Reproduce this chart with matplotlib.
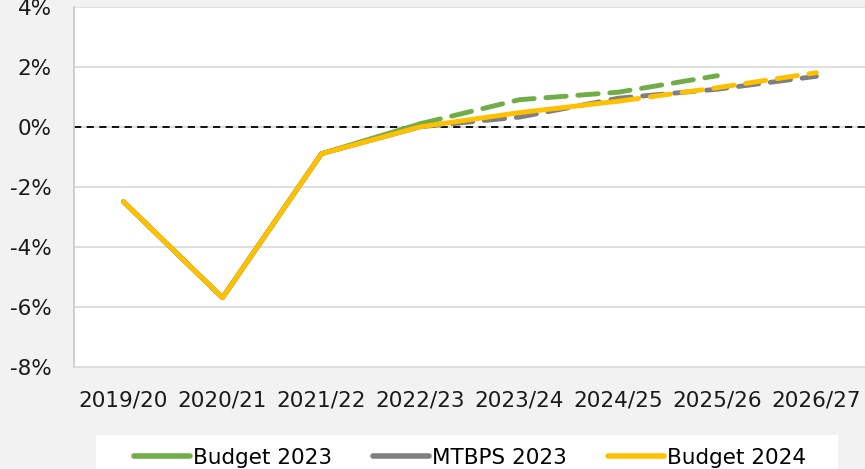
import numpy as np
import matplotlib
matplotlib.use("Agg")
import matplotlib.pyplot as plt
from matplotlib.lines import Line2D
from matplotlib.patches import Rectangle
from matplotlib.ticker import FuncFormatter

matplotlib.rcParams['font.family'] = 'DejaVu Sans'
matplotlib.rcParams['axes.unicode_minus'] = False

# data (% of GDP)
years = ['2019/20', '2020/21', '2021/22', '2022/23', '2023/24', '2024/25', '2025/26', '2026/27']
budget_2023 = [-2.5, -5.7, -0.9, 0.1, 0.9, 1.15, 1.7, np.nan]
mtbps_2023 = [-2.5, -5.7, -0.9, 0.0, 0.32, 0.95, 1.25, 1.68]
budget_2024 = [-2.5, -5.7, -0.9, 0.0, 0.47, 0.85, 1.3, 1.8]
# last year drawn solid, after that dashed (projection)
last_actual = {'Budget 2023': 3, 'MTBPS 2023': 3, 'Budget 2024': 5}

series = [('Budget 2023', budget_2023, '#70ad47'),
          ('MTBPS 2023', mtbps_2023, '#7f7f7f'),
          ('Budget 2024', budget_2024, '#ffc000')]

fig = plt.figure(figsize=(8.65, 4.69), dpi=100, facecolor='#f2f2f2')
ax = fig.add_axes([74 / 865, 1 - 366.7 / 469, 1 - 74 / 865 + 0.001, (366.7 - 6.7) / 469])
ax.set_facecolor('white')

x = np.arange(len(years))
for name, vals, col in series:
    v = np.array(vals, dtype=float)
    k = last_actual[name]
    ax.plot(x[:k + 1], v[:k + 1], color=col, lw=3.5, solid_capstyle='round',
            solid_joinstyle='round', zorder=3)
    ax.plot(x[k:], v[k:], color=col, lw=3.5, dashes=(4.2, 2.4), dash_capstyle='round',
            zorder=3)

ax.axhline(0, color='black', lw=1.3, dashes=(4, 3), zorder=2)

ax.set_xlim(-0.5, len(years) - 0.5)
ax.set_ylim(-8, 4)
ax.set_yticks(np.arange(-8, 5, 2))
ax.yaxis.set_major_formatter(FuncFormatter(lambda v, p: '{:.0f}%'.format(v)))
ax.set_xticks(x)
ax.set_xticklabels(years)
ax.tick_params(axis='both', length=0, labelsize=15.5, colors='#1a1a1a')
ax.tick_params(axis='y', pad=16)
ax.tick_params(axis='x', pad=17)
ax.grid(axis='y', color='#d9d9d9', lw=1.2, zorder=1)

for s in ['top', 'right']:
    ax.spines[s].set_visible(False)
ax.spines['left'].set_color('#c8c8c8')
ax.spines['left'].set_linewidth(1.2)
ax.spines['bottom'].set_color('#d9d9d9')
ax.spines['bottom'].set_linewidth(1.2)

# legend box at the bottom
fig.patches.append(Rectangle((96 / 865, 0), (838 - 96) / 865, 34 / 469,
                             transform=fig.transFigure, facecolor='white',
                             edgecolor='none', zorder=0))
handles = [Line2D([0], [0], color=col, lw=4, solid_capstyle='round') for _, _, col in series]
fig.legend(handles, [s[0] for s in series], loc='center', ncol=3,
           bbox_to_anchor=(470 / 865, 1 - 458 / 469), frameon=False,
           fontsize=15.5, handlelength=2.6, handletextpad=0.15,
           columnspacing=1.9, borderpad=0)

fig.savefig('out.png', dpi=100, facecolor=fig.get_facecolor())
